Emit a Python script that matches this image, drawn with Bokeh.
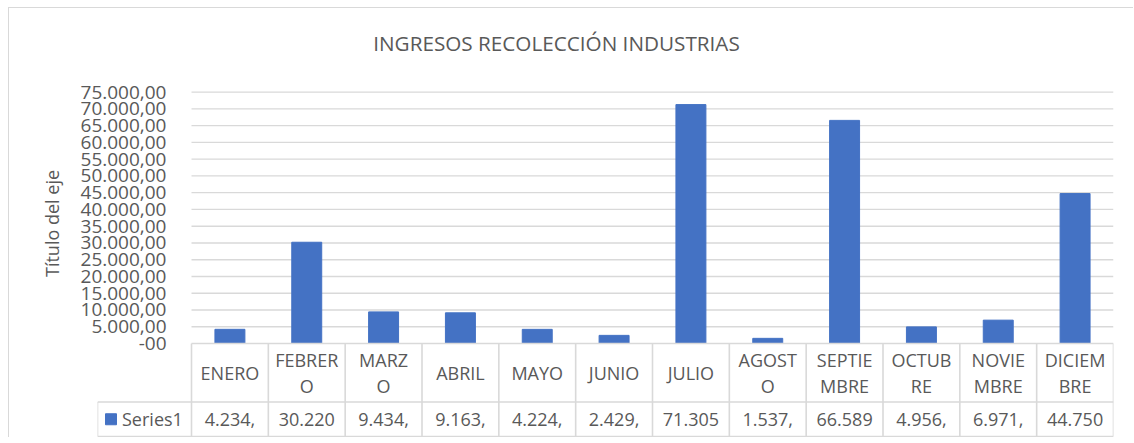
from bokeh.plotting import figure
from bokeh.models import Range1d, FixedTicker
from bokeh.core.properties import value
from bokeh.embed import file_html
from bokeh.resources import INLINE
import numpy as np

# ---------------- data ----------------
title_text = "INGRESOS RECOLECCIÓN INDUSTRIAS"
y_axis_title = "Título del eje"
series_name = "Series1"
months = ["ENERO", "FEBRERO", "MARZO", "ABRIL", "MAYO", "JUNIO", "JULIO",
          "AGOSTO", "SEPTIEMBRE", "OCTUBRE", "NOVIEMBRE", "DICIEMBRE"]
month_labels = ["ENERO", "FEBRER\nO", "MARZ\nO", "ABRIL", "MAYO", "JUNIO", "JULIO",
                "AGOST\nO", "SEPTIE\nMBRE", "OCTUB\nRE", "NOVIE\nMBRE", "DICIEM\nBRE"]
values = [4234, 30220, 9434, 9163, 4224, 2429, 71305, 1537, 66589, 4956, 6971, 44750]
y_ticks = [0, 5000, 10000, 15000, 20000, 25000, 30000, 35000, 40000, 45000,
           50000, 55000, 60000, 65000, 70000, 75000]
y_tick_labels = ["-00", "5.000,00", "10.000,00", "15.000,00", "20.000,00", "25.000,00",
                 "30.000,00", "35.000,00", "40.000,00", "45.000,00", "50.000,00",
                 "55.000,00", "60.000,00", "65.000,00", "70.000,00", "75.000,00"]


def excel_fmt(v):
    s = f"{v:,.2f}".replace(",", "X").replace(".", ",").replace("X", ".")
    return s[:6]  # truncated as shown in the narrow table cell


value_labels = [excel_fmt(v) for v in values]

# ---------------- style / layout constants ----------------
BAR = "#4472C4"
TXT = "#595959"
GRID = "#d9d9d9"
FONT = value("Open Sans")
n = len(months)

W, H = 1125, 430                 # canvas (page: starts at x=9, y=8)
FRAME_LEFT = 88                  # legend column left edge
LEG_PX = 94                      # legend column width
CAT_PX = 922 / n                 # one category column
FRAME_W = int(round(LEG_PX + CAT_PX * n))
RIGHT = W - FRAME_LEFT - FRAME_W
PX_ZERO = 335                    # px from frame top to value 0
PX_75K = 83.7                    # px from frame top to 75000
K = 75000 / (PX_ZERO - PX_75K)   # data units per pixel
LEG = LEG_PX / CAT_PX

y_end = 75000 + PX_75K * K
y_start = -(H - PX_ZERO) * K

p = figure(width=W, height=H, x_range=Range1d(-LEG, n), y_range=Range1d(y_start, y_end),
           output_backend="svg", toolbar_location=None, x_axis_location=None, title=None,
           min_border_left=FRAME_LEFT, min_border_right=RIGHT,
           min_border_top=0, min_border_bottom=0,
           styles={"margin-left": "8px", "margin-top": "7px",
                   "border-top": "1px solid #d9d9d9", "border-left": "1px solid #d9d9d9"})
p.outline_line_color = None
p.background_fill_color = "white"
p.border_fill_color = "white"
p.xgrid.grid_line_color = None
p.ygrid.grid_line_color = None

# y axis (labels pulled inside, next to the value area)
ax = p.yaxis[0]
ax.ticker = FixedTicker(ticks=y_ticks)
ax.major_label_overrides = {t: l for t, l in zip(y_ticks, y_tick_labels)}
ax.axis_line_color = None
ax.major_tick_line_color = None
ax.minor_tick_line_color = None
ax.major_tick_out = 0
ax.major_tick_in = 0
ax.major_label_standoff = -69
ax.major_label_text_font = "Open Sans"
ax.major_label_text_font_size = "19px"
ax.major_label_text_color = TXT
ax.axis_label = y_axis_title
ax.axis_label_text_font = "Open Sans"
ax.axis_label_text_font_size = "18px"
ax.axis_label_text_font_style = "normal"
ax.axis_label_text_color = TXT
ax.axis_label_standoff = 14

# title
p.text(x=[-LEG + (556 - 97) / CAT_PX], y=[75000 + (91.7 - 42.5) * K], text=[title_text],
       text_align="center", text_baseline="middle", text_font=FONT,
       text_font_size="20.7px", text_color=TXT)

# gridlines over the value area only
p.segment(x0=0, y0=y_ticks[1:], x1=n, y1=y_ticks[1:], line_color=GRID, line_width=1.3)

# bars
centers = np.arange(n) + 0.5
p.vbar(x=centers, top=values, width=0.39, color=BAR)

# ---------------- data table ----------------
ROW_TOP = 0
ROW_MID = -58.5 * K
ROW_BOT = -93.0 * K
xs = np.arange(n + 1)
p.segment(x0=xs, y0=ROW_TOP, x1=xs, y1=ROW_BOT, line_color=GRID, line_width=1.6)
p.segment(x0=[-LEG], y0=[ROW_MID], x1=[-LEG], y1=[ROW_BOT], line_color=GRID, line_width=1.6)
p.segment(x0=[0, -LEG, -LEG], y0=[ROW_TOP, ROW_MID, ROW_BOT],
          x1=[n, n, n], y1=[ROW_TOP, ROW_MID, ROW_BOT], line_color=GRID, line_width=1.6)

row1_y = -29.5 * K
row2_y = (ROW_MID + ROW_BOT) / 2
p.text(x=centers, y=row1_y, text=month_labels, text_align="center",
       text_baseline="middle", text_font=FONT, text_font_size="18px", text_color=TXT,
       text_line_height=1.1)
p.text(x=centers, y=row2_y, text=value_labels, text_align="center",
       text_baseline="middle", text_font=FONT, text_font_size="18px", text_color=TXT)

# legend key in the table
p.scatter(x=[-LEG + 13.5 / CAT_PX], y=[row2_y], marker="square", size=11, color=BAR,
          line_color=BAR)
p.text(x=[-LEG + 24.5 / CAT_PX], y=[row2_y], text=[series_name], text_align="left",
       text_baseline="middle", text_font=FONT, text_font_size="18px", text_color=TXT)

open("out.html", "w").write(file_html(p, INLINE))
